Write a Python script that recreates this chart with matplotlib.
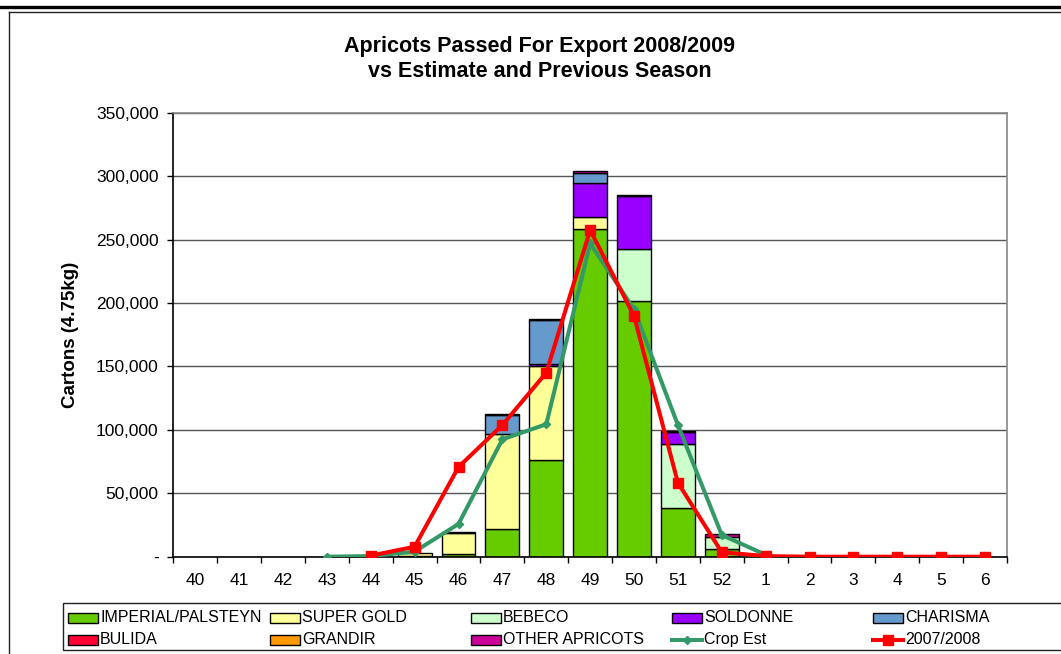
import numpy as np
import matplotlib
matplotlib.use("Agg")
import matplotlib.pyplot as plt
from matplotlib.patches import Rectangle
from matplotlib.lines import Line2D
from matplotlib.ticker import FuncFormatter, MultipleLocator

plt.rcParams['font.family'] = ['Liberation Sans', 'DejaVu Sans']

weeks = ['40', '41', '42', '43', '44', '45', '46', '47', '48', '49', '50', '51', '52',
         '1', '2', '3', '4', '5', '6']

imperial   = [0, 0, 0, 0, 0, 300, 2000, 21600, 76200, 258300, 201800, 38100, 5800, 0, 0, 0, 0, 0, 0]
super_gold = [0, 0, 0, 0, 0, 2900, 16700, 75100, 74400, 9200, 0, 0, 0, 0, 0, 0, 0, 0, 0]
bebeco     = [0, 0, 0, 0, 0, 0, 0, 0, 0, 0, 40500, 50500, 9500, 0, 0, 0, 0, 0, 0]
soldonne   = [0, 0, 0, 0, 0, 0, 0, 0, 1600, 27300, 42000, 9900, 0, 0, 0, 0, 0, 0, 0]
charisma   = [0, 0, 0, 0, 0, 0, 0, 15000, 34000, 7900, 0, 0, 0, 0, 0, 0, 0, 0, 0]
bulida     = [0] * 19
grandir    = [0] * 19
other      = [0, 0, 0, 0, 0, 0, 500, 600, 900, 1200, 700, 700, 2300, 0, 0, 0, 0, 0, 0]

crop_est = [np.nan, np.nan, np.nan, 0, 500, 4000, 25800, 92500, 104400, 247000, 195000,
            103800, 17100, 1500, np.nan, np.nan, np.nan, np.nan, np.nan]
prev_season = [np.nan, np.nan, np.nan, np.nan, 800, 7900, 70700, 103800, 145000, 257500,
               189700, 58300, 3500, 500, 0, 0, 0, 0, 0]

series = [
    ('IMPERIAL/PALSTEYN', imperial, '#66CC00'),
    ('SUPER GOLD', super_gold, '#FFFF99'),
    ('BEBECO', bebeco, '#CCFFCC'),
    ('SOLDONNE', soldonne, '#9900FF'),
    ('CHARISMA', charisma, '#6699CC'),
    ('BULIDA', bulida, '#FF0033'),
    ('GRANDIR', grandir, '#FF9900'),
    ('OTHER APRICOTS', other, '#CC0099'),
]
crop_color = '#339966'
prev_color = '#FF0000'

W, H = 1061, 654
fig = plt.figure(figsize=(W / 100, H / 100), dpi=100)

# outer frame pieces
fig.add_artist(Line2D([0, 1], [1 - 6.5 / H, 1 - 6.5 / H], color='black', lw=2.4))
fig.add_artist(Line2D([9 / W, 1.0], [1 - 12 / H, 1 - 12 / H], color='#222222', lw=1.0))
fig.add_artist(Line2D([9 / W, 9 / W], [0, 1 - 12 / H], color='#222222', lw=1.0))

ax = fig.add_axes([173.3 / W, (H - 556.7) / H, (1007 - 173.3) / W, (556.7 - 112.7) / H])
x = np.arange(len(weeks))
bottom = np.zeros(len(weeks))
for name, vals, col in series:
    v = np.array(vals, dtype=float)
    lw = np.where(v > 0, 1.0, 0.0)
    ax.bar(x, v, 0.77, bottom=bottom, color=col, edgecolor='black', linewidth=lw, zorder=2)
    bottom += v

ax.plot(x, crop_est, color=crop_color, lw=2.9, marker='D', markersize=4.5, zorder=3)
ax.plot(x, prev_season, color=prev_color, lw=2.9, marker='s', markersize=7, zorder=4)

ax.set_xlim(-0.5, len(weeks) - 0.5)
ax.set_ylim(0, 350000)
ax.yaxis.set_major_locator(MultipleLocator(50000))
ax.yaxis.set_major_formatter(FuncFormatter(lambda v, p: '-' if v == 0 else f'{int(v):,}'))
ax.grid(axis='y', color='#555555', lw=1.0, zorder=0)
ax.set_axisbelow(True)
ax.set_xticks(x)
ax.set_xticklabels(weeks)
ax.set_xticks(np.arange(len(weeks) + 1) - 0.5, minor=True)
ax.tick_params(axis='x', which='major', length=0, pad=12, labelsize=12.5)
ax.tick_params(axis='x', which='minor', length=4.5, width=1, direction='out')
ax.tick_params(axis='y', length=4.5, width=1, direction='out', labelsize=12.5, pad=6)
for s in ['top', 'right']:
    ax.spines[s].set_color('#888888')
    ax.spines[s].set_linewidth(1.2)
for s in ['left', 'bottom']:
    ax.spines[s].set_color('black')
    ax.spines[s].set_linewidth(1.2)
ax.set_ylabel('Cartons (4.75kg)', fontsize=13.5, fontweight='bold', labelpad=12)

fig.text(540 / W, 1 - 59 / H, 'Apricots Passed For Export 2008/2009\nvs Estimate and Previous Season',
         ha='center', va='center', fontsize=15.5, fontweight='bold', linespacing=1.3)

# legend (manual placement, 5 columns x 2 rows)
fig.add_artist(Rectangle((63 / W, 1 - 650 / H), 1.0, (650 - 603) / H, transform=fig.transFigure,
                         facecolor='white', edgecolor='#222222', lw=1.0, zorder=0))
entries = [(n, c, 'patch') for n, _, c in series[:5]] + \
          [(n, c, 'patch') for n, _, c in series[5:]] + \
          [('Crop Est', crop_color, 'crop'), ('2007/2008', prev_color, 'prev')]
col_x = [68, 270, 471, 672, 873]
row_y = [617.5, 639.5]
for i, (name, col, kind) in enumerate(entries):
    r, c = divmod(i, 5)
    px = col_x[c]
    py = row_y[r]
    if kind == 'patch':
        fig.add_artist(Rectangle((px / W, 1 - (py + 5) / H), 30 / W, 10 / H,
                                 transform=fig.transFigure, facecolor=col,
                                 edgecolor='black', lw=1.0))
    else:
        fig.add_artist(Line2D([px / W, (px + 30) / W], [1 - py / H, 1 - py / H],
                              color=col, lw=2.9))
        mk = 'D' if kind == 'crop' else 's'
        ms = 4.5 if kind == 'crop' else 7
        fig.add_artist(Line2D([(px + 15) / W], [1 - py / H], color=col, marker=mk,
                              markersize=ms, lw=0))
    fig.text((px + 32) / W, 1 - py / H, name, ha='left', va='center', fontsize=11.5)

fig.savefig('out.png', dpi=100)
